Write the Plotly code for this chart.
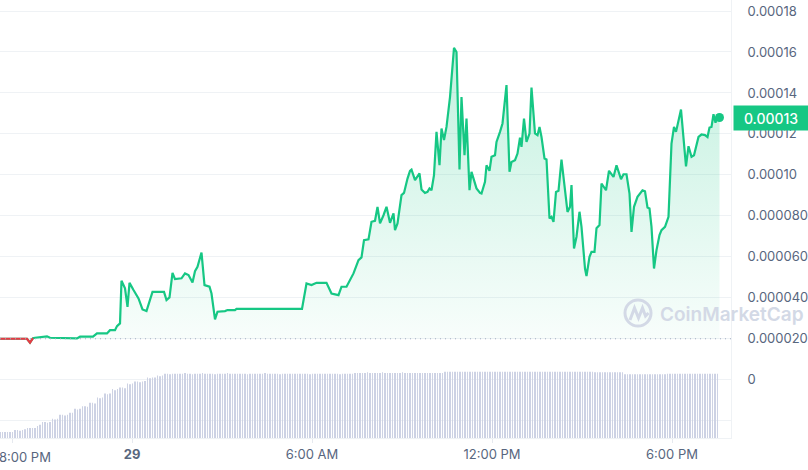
import pandas as pd
import plotly.graph_objects as go

# ---------------- data ----------------
MONTH = "2024-05-"
price_times = [
    "28 19:36", "28 20:30", "28 20:36", "28 20:42", "28 20:46", "28 21:02", "28 21:10", "28 21:16",
    "28 21:36", "28 22:10", "28 22:16", "28 22:42", "28 22:50", "28 23:10", "28 23:16", "28 23:26",
    "28 23:30", "28 23:36", "28 23:39", "28 23:46", "28 23:51", "28 23:55", "29 00:03", "29 00:13",
    "29 00:21", "29 00:29", "29 00:41", "29 01:04", "29 01:09", "29 01:15", "29 01:21", "29 01:26",
    "29 01:39", "29 01:46", "29 01:53", "29 02:01", "29 02:06", "29 02:11", "29 02:19", "29 02:25",
    "29 02:35", "29 02:39", "29 02:46", "29 02:51", "29 03:06", "29 03:11", "29 03:26", "29 03:29",
    "29 05:40", "29 05:49", "29 05:59", "29 06:09", "29 06:29", "29 06:39", "29 06:53", "29 06:59",
    "29 07:09", "29 07:16", "29 07:23", "29 07:33", "29 07:39", "29 07:44", "29 07:53", "29 07:59",
    "29 08:06", "29 08:11", "29 08:16", "29 08:23", "29 08:29", "29 08:36", "29 08:43", "29 08:46",
    "29 08:51", "29 08:59", "29 09:04", "29 09:11", "29 09:16", "29 09:19", "29 09:26", "29 09:35",
    "29 09:39", "29 09:46", "29 09:51", "29 09:55", "29 09:59", "29 10:04", "29 10:09", "29 10:15",
    "29 10:19", "29 10:24", "29 10:29", "29 10:36", "29 10:44", "29 10:49", "29 10:55", "29 10:59",
    "29 11:05", "29 11:09", "29 11:15", "29 11:19", "29 11:29", "29 11:36", "29 11:39", "29 11:46",
    "29 11:49", "29 11:55", "29 11:59", "29 12:06", "29 12:09", "29 12:16", "29 12:21", "29 12:29",
    "29 12:35", "29 12:39", "29 12:46", "29 12:51", "29 12:56", "29 12:59", "29 13:04", "29 13:09",
    "29 13:15", "29 13:19", "29 13:26", "29 13:31", "29 13:35", "29 13:39", "29 13:45", "29 13:49",
    "29 13:55", "29 13:59", "29 14:03", "29 14:08", "29 14:13", "29 14:19", "29 14:27", "29 14:31",
    "29 14:36", "29 14:39", "29 14:44", "29 14:49", "29 14:55", "29 14:59", "29 15:06", "29 15:09",
    "29 15:15", "29 15:19", "29 15:25", "29 15:29", "29 15:35", "29 15:39", "29 15:48", "29 15:54",
    "29 16:03", "29 16:09", "29 16:18", "29 16:23", "29 16:29", "29 16:35", "29 16:39", "29 16:44",
    "29 16:51", "29 17:01", "29 17:06", "29 17:11", "29 17:15", "29 17:19", "29 17:24", "29 17:29",
    "29 17:35", "29 17:39", "29 17:46", "29 17:53", "29 17:59", "29 18:04", "29 18:08", "29 18:18",
    "29 18:28", "29 18:33", "29 18:39", "29 18:44", "29 18:53", "29 18:59", "29 19:06", "29 19:11",
    "29 19:15", "29 19:19", "29 19:23", "29 19:27", "29 19:31", "29 19:35",
]
# price in millionths of a dollar
price_micro = [
    20.0, 20.0, 18.1, 20.3, 20.5, 21.0, 21.2, 20.5,
    20.3, 20.2, 21.0, 21.0, 22.6, 22.6, 24.2, 24.2,
    26.2, 27.5, 48.3, 44.6, 35.6, 47.3, 43.8, 39.7,
    34.3, 33.5, 42.9, 42.9, 38.9, 40.2, 52.2, 49.1,
    49.5, 51.9, 51.1, 47.5, 53.0, 55.1, 62.1, 46.2,
    45.4, 42.1, 29.5, 33.2, 33.5, 34.0, 34.0, 34.6,
    34.6, 47.0, 46.2, 47.3, 47.3, 42.1, 41.3, 45.4,
    45.4, 48.6, 51.9, 58.4, 59.7, 68.1, 68.5, 77.1,
    77.6, 84.4, 76.3, 80.3, 84.4, 76.6, 81.2, 73.0,
    76.3, 90.1, 91.2, 98.2, 102.0, 102.6, 97.4, 100.7,
    92.9, 91.2, 91.7, 93.4, 92.5, 99.9, 121.0, 104.7,
    122.6, 117.0, 123.4, 138.0, 162.0, 160.0, 102.6, 138.0,
    109.6, 127.5, 92.5, 101.5, 93.4, 91.2, 90.9, 96.6,
    104.7, 102.0, 108.8, 109.6, 116.1, 121.0, 125.1, 143.8,
    101.5, 106.3, 107.2, 110.4, 118.2, 113.7, 127.5, 116.1,
    120.2, 142.6, 120.2, 119.4, 123.4, 118.5, 108.0, 107.5,
    78.7, 79.5, 77.1, 91.7, 92.2, 107.5, 90.9, 81.9,
    84.4, 95.0, 64.1, 69.8, 82.0, 74.6, 54.3, 50.6,
    60.0, 62.4, 62.4, 74.0, 75.5, 95.8, 92.5, 102.0,
    99.0, 104.7, 97.9, 100.3, 100.3, 90.9, 72.2, 84.4,
    89.3, 92.5, 92.0, 84.1, 83.6, 74.6, 54.3, 63.3,
    70.6, 73.0, 74.6, 79.5, 115.3, 123.4, 121.0, 131.9,
    104.2, 114.0, 108.8, 109.6, 118.5, 119.7, 119.4, 118.5,
    123.1, 123.4, 129.6, 125.4, 129.5, 128.0,
]
RED_POINTS = 4  # first points drawn at/below the opening price

# volume, one bar every 5 minutes from 19:36 (relative units)
volume = [
    9, 9, 9, 9, 9, 9, 12, 12, 11, 12, 13, 15, 15, 15, 15, 18, 20, 24, 24, 23, 24, 29, 28, 29,
    35, 35, 34, 35, 38, 38, 44, 43, 44, 48, 48, 47, 53, 53, 52, 61, 60, 61, 67, 66, 67, 74, 72, 74,
    76, 76, 75, 82, 81, 82, 85, 85, 84, 85, 86, 91, 90, 91, 91, 94, 93, 94, 97, 97, 96, 97, 97, 97,
    97, 97, 98, 97, 97, 96, 97, 97, 97, 98, 97, 97, 97, 97, 96, 97, 97, 97, 97, 98, 97, 97, 97, 97,
    97, 97, 97, 96, 97, 97, 97, 97, 97, 97, 98, 97, 97, 97, 97, 97, 96, 97, 97, 97, 97, 97, 97, 97,
    97, 97, 97, 97, 96, 97, 97, 97, 97, 97, 97, 97, 97, 97, 97, 97, 96, 97, 97, 97, 97, 97, 98, 98,
    98, 98, 98, 99, 98, 98, 98, 98, 98, 99, 98, 98, 98, 98, 98, 98, 98, 99, 98, 98, 98, 98, 98, 98,
    98, 98, 98, 98, 98, 98, 98, 98, 98, 98, 100, 100, 100, 100, 100, 100, 100, 100, 100, 100, 100, 100, 100, 100,
    100, 100, 100, 100, 100, 100, 100, 100, 100, 100, 100, 100, 100, 100, 100, 100, 100, 100, 100, 100, 100, 100, 100, 100,
    100, 100, 100, 100, 100, 100, 100, 100, 100, 100, 100, 100, 100, 100, 100, 100, 100, 100, 100, 100, 100, 100, 99, 99,
    99, 99, 99, 99, 99, 99, 99, 99, 99, 99, 96, 96, 96, 96, 96, 96, 96, 96, 96, 96, 96, 96, 96, 96,
    96, 96, 96, 97, 97, 97, 97, 97, 97, 97, 97, 97, 97, 97, 97, 97, 97, 97, 97, 97, 97, 97, 97, 97,
]

x_tick_times = ["28 20:00", "29 00:00", "29 06:00", "29 12:00", "29 18:00"]
x_tick_labels = ["8:00 PM", "<b>29</b>", "6:00 AM", "12:00 PM", "6:00 PM"]
x_range = ["28 19:36", "29 19:58"]

y_tick_vals_micro = [-20, 0, 20, 40, 60, 80, 100, 120, 140, 160, 180]
y_tick_labels = ["", "0", "0.000020", "0.000040", "0.000060", "0.000080",
                 "0.00010", "0.00012", "0.00014", "0.00016", "0.00018"]
y_range_micro = [-28.44, 185.37]

# ---------------- build ----------------
def ts(s):
    d, hm = s.split()
    return pd.Timestamp(MONTH + d + " " + hm)

t = [ts(s) for s in price_times]
price = [v * 1e-6 for v in price_micro]
base = price[0]
vol_t = pd.date_range(ts(price_times[0]), periods=len(volume), freq="5min")

GREEN = "#16c784"
RED = "#ea3943"
PLOT_W, PLOT_H = 731, 438

def px(x):
    return x / PLOT_W

def py(y):
    return (PLOT_H - y) / PLOT_H

fig = go.Figure()

# volume bars
fig.add_trace(go.Bar(x=vol_t, y=volume, yaxis="y2", marker=dict(color="#cdd2e4", line=dict(width=0)),
                     width=100000, hoverinfo="skip"))
# baseline (for fill)
fig.add_trace(go.Scatter(x=t, y=[base] * len(t), mode="lines", line=dict(width=0, color="rgba(0,0,0,0)"),
                         hoverinfo="skip"))
fig.add_trace(go.Scatter(
    x=t, y=price, mode="lines", line=dict(color=GREEN, width=2.2),
    fill="tonexty",
    fillgradient=dict(type="vertical", start=base, stop=max(price),
                      colorscale=[[0, "rgba(22,199,132,0.03)"], [1, "rgba(22,199,132,0.26)"]]),
))
fig.add_trace(go.Scatter(x=t[:RED_POINTS], y=price[:RED_POINTS], mode="lines",
                         line=dict(color=RED, width=2.2)))
fig.add_trace(go.Scatter(x=[t[-1]], y=[price[-1]], mode="markers",
                         marker=dict(color=GREEN, size=9)))

shapes = [
    dict(type="line", xref="paper", yref="y", x0=0, x1=1, y0=base, y1=base,
         line=dict(color="#a3adc2", width=1, dash="1px,4px")),
    # watermark logo
    dict(type="circle", xref="paper", yref="paper", x0=px(625), x1=px(651), y0=py(326), y1=py(300),
         line=dict(color="#d3d9e6", width=3)),
    dict(type="path", xref="paper", yref="paper",
         path="M {} {} L {} {} L {} {} L {} {} L {} {} L {} {}".format(
             px(630), py(320), px(634.5), py(308), px(638.5), py(318),
             px(642.5), py(308), px(645.5), py(316), px(648.5), py(313)),
         line=dict(color="#d3d9e6", width=3)),
]

annotations = [
    dict(xref="paper", yref="paper", x=px(658), y=py(314), xanchor="left", yanchor="middle",
         text="CoinMarketCap", showarrow=False,
         font=dict(family="Inter, sans-serif", size=19, color="#d3d9e6", weight=600)),
    dict(xref="paper", yref="y", x=px(733), y=price[-1], xanchor="left", yanchor="middle",
         text=f"{price[-1]:.5f}", showarrow=False, bgcolor=GREEN, borderpad=5,
         width=64, height=14,
         font=dict(family="Inter, sans-serif", size=14, color="white", weight=500)),
    # first x label is nudged inward (as in the reference) so it stays mostly visible
    dict(xref="x", yref="paper", x=ts(x_tick_times[0]), y=0, xanchor="center", yanchor="top",
         xshift=13, yshift=-9, text=x_tick_labels[0], showarrow=False,
         font=dict(family="Inter, sans-serif", size=13, color="#58667e")),
]

fig.update_layout(
    width=808, height=470,
    margin=dict(l=0, r=77, t=0, b=32, pad=0, autoexpand=False),
    plot_bgcolor="white", paper_bgcolor="white",
    showlegend=False,
    font=dict(family="Inter, sans-serif", size=13, color="#58667e"),
    shapes=shapes, annotations=annotations,
    xaxis=dict(type="date", range=[ts(s) for s in x_range], automargin=False,
               tickvals=[ts(s) for s in x_tick_times], ticktext=[""] + x_tick_labels[1:],
               ticklabeloverflow="allow",
               showgrid=False, zeroline=False, showline=True, linecolor="#eff2f5", linewidth=1,
               ticks="outside", ticklen=4, tickcolor="#e6e9ef",
               tickfont=dict(size=13, color="#58667e")),
    yaxis=dict(side="right", range=[v * 1e-6 for v in y_range_micro], automargin=False,
               tickvals=[v * 1e-6 for v in y_tick_vals_micro], ticktext=y_tick_labels,
               ticklabeloverflow="allow",
               showgrid=True, gridcolor="#eff2f5", gridwidth=1, zeroline=False,
               showline=True, linecolor="#eff2f5", ticks="", ticklabelstandoff=13,
               tickfont=dict(size=13, color="#58667e")),
    yaxis2=dict(overlaying="y", range=[0, 660], visible=False, automargin=False),
)

fig.write_html("out.html", config={"displayModeBar": False},
               post_script="document.body.style.margin='0px';document.body.style.padding='0px';")
